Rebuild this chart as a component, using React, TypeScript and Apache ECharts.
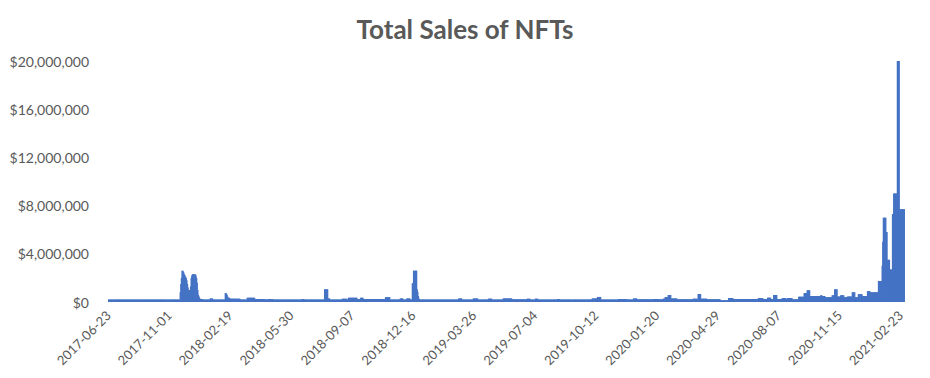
import React, { useEffect, useRef } from 'react';
import * as echarts from 'echarts';

// X-axis tick labels (one every 100 trading days in the source data)
const tickLabels = [
  '2017-06-23', '2017-11-01', '2018-02-19', '2018-05-30', '2018-09-07',
  '2018-12-16', '2019-03-26', '2019-07-04', '2019-10-12', '2020-01-20',
  '2020-04-29', '2020-08-07', '2020-11-15', '2021-02-23',
];

// Daily sales: runDays[i] consecutive days at runSales[i] dollars
const runDays = [
  118,
  1, 1, 1,
  2, 1, 1, 1,
  1, 1, 1,
  1, 1, 1,
  3,
  1, 1,
  1, 6, 1, 1,
  1, 1, 1,
  1, 1,
  5, 11, 5, 20,
  2, 1, 1, 1,
  3, 17, 11, 13, 17, 5, 8, 47, 4, 33,
  6, 3, 20, 8, 2, 15, 5, 5, 36, 8, 16, 5, 6, 6, 3,
  2, 6,
  1, 1, 1, 1,
  64, 6, 18, 8, 17, 6, 18, 15, 25, 5, 8, 5, 31, 5, 52, 9, 6, 28, 15, 10, 6, 27,
  8, 8, 3, 5, 5, 10, 26, 7, 1, 5, 10, 22, 13, 8, 41, 8, 7, 6, 4, 6, 8, 7, 2, 8, 10,
  9, 5, 5, 17, 3, 5, 11, 4, 5, 5, 6, 5, 8, 5, 5, 7, 8, 5, 13,
  6, 1, 1, 5, 2, 4, 4, 2, 6, 4, 9,
];
const runSales = [
  200000,
  800000, 1500000, 2000000,
  2600000, 2550000, 2450000, 2300000,
  2200000, 2100000, 2000000,
  1800000, 1500000, 1200000,
  1000000,
  1300000, 2000000,
  2200000, 2300000, 2200000, 2000000,
  1600000, 1000000, 600000,
  450000, 350000,
  250000, 200000, 300000, 200000,
  750000, 700000, 600000, 450000,
  350000, 280000, 200000, 350000, 250000, 200000, 250000, 200000, 250000, 200000,
  1050000, 300000, 200000, 270000, 200000, 350000, 250000, 350000, 250000, 400000, 200000, 300000, 200000, 300000, 200000,
  1550000, 2600000,
  1050000, 850000, 500000, 300000,
  200000, 300000, 200000, 300000, 200000, 280000, 200000, 300000, 220000, 280000, 200000, 280000, 200000, 250000, 200000, 300000, 420000, 200000, 250000, 200000, 300000, 220000,
  250000, 220000, 280000, 420000, 580000, 300000, 220000, 280000, 220000, 660000, 280000, 220000, 150000, 330000, 250000, 330000, 250000, 360000, 250000, 580000, 250000, 330000, 250000, 330000, 220000,
  440000, 750000, 970000, 500000, 550000, 500000, 400000, 550000, 1050000, 450000, 550000, 400000, 450000, 800000, 400000, 650000, 500000, 900000, 800000,
  1750000, 3000000, 5000000, 7000000, 5800000, 3500000, 2700000, 7300000, 9000000, 20000000, 7700000,
];

const yMax = 20000000;
const yStep = 4000000;

const sales: number[] = [];
runDays.forEach((d, i) => {
  for (let k = 0; k < d; k++) sales.push(runSales[i]);
});
const dayIndex = sales.map((_, i) => String(i));

const FONT = 'Lato';
const GREY = '#595959';

export default function App() {
  const ref = useRef<HTMLDivElement>(null);
  useEffect(() => {
    document.body.style.margin = '0';
    if (!ref.current) return;
    const chart = echarts.init(ref.current, undefined, { renderer: 'svg' });
    chart.setOption({
      animation: false,
      title: {
        text: 'Total Sales of NFTs',
        left: 'center',
        top: 11,
        textStyle: { fontFamily: FONT, fontWeight: 'bold', fontSize: 26, color: GREY },
      },
      grid: { left: 108, right: 25, top: 61, bottom: 76 },
      xAxis: {
        type: 'category',
        data: dayIndex,
        axisTick: { show: false },
        axisLine: { show: false },
        splitLine: { show: false },
        axisLabel: {
          interval: 99,
          rotate: 45,
          margin: 11,
          color: GREY,
          fontSize: 13,
          fontFamily: FONT,
          formatter: (v: string) => tickLabels[Number(v) / 100] ?? '',
        },
      },
      yAxis: {
        type: 'value',
        min: 0,
        max: yMax,
        interval: yStep,
        axisLine: { show: false },
        axisTick: { show: false },
        splitLine: { show: false },
        axisLabel: {
          margin: 19,
          color: GREY,
          fontSize: 14,
          fontFamily: FONT,
          formatter: (v: number) => '$' + v.toLocaleString('en-US'),
        },
      },
      series: [
        {
          type: 'bar',
          data: sales,
          barWidth: 1.3,
          itemStyle: { color: '#4472C4' },
          silent: true,
        },
      ],
    });
    return () => chart.dispose();
  }, []);
  return <div ref={ref} style={{ width: 930, height: 378 }} />;
}
